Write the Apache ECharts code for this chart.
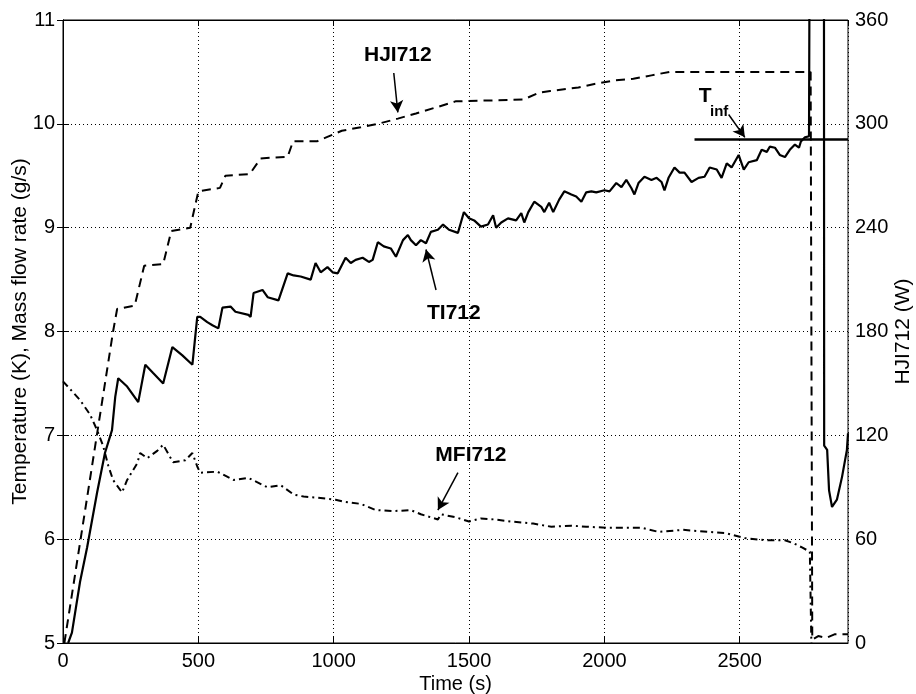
<!DOCTYPE html>
<html>
<head>
<meta charset="utf-8">
<script src="https://cdn.jsdelivr.net/npm/echarts@6/dist/echarts.min.js"></script>
<style>
  html, body { margin: 0; padding: 0; background: #fff; }
  #chart { width: 916px; height: 694px; }
</style>
</head>
<body>
<div id="chart"></div>
<script>
// TI712 temperature (K), left axis
let tiTime = [19, 33, 63, 89, 126, 155, 181, 193, 204, 237, 278, 304, 333, 370, 404, 441, 478, 496, 507, 533, 552, 574, 589, 619, 637, 685, 693, 704, 737, 756, 796, 830, 852,
    878, 915, 933, 952, 977, 996, 1015, 1044, 1063, 1081, 1107, 1130, 1144, 1163, 1185, 1211, 1230, 1256, 1274, 1285, 1304, 1322, 1341, 1359, 1385, 1404, 1426, 1459, 1470, 1481, 1500, 1519, 1544, 1570, 1589, 1600,
    1619, 1644, 1674, 1693, 1704, 1719, 1741, 1767, 1778, 1796, 1811, 1833, 1852, 1878, 1896, 1915, 1933, 1952, 1970, 2000, 2019, 2044, 2063, 2081, 2100, 2111, 2126, 2148, 2174, 2193, 2211,
    2222, 2237, 2259, 2278, 2296, 2322, 2348, 2370, 2389, 2415, 2433, 2452, 2470, 2496, 2515, 2533, 2563, 2581, 2600, 2611, 2630, 2648, 2667, 2685, 2704, 2719, 2726, 2741, 2756,
    2759, 2811, 2812, 2823, 2830, 2841, 2859, 2878, 2896, 2900];
let tiValue = [5.0, 5.1, 5.59, 5.92, 6.45, 6.83, 7.05, 7.37, 7.55, 7.47, 7.32, 7.68, 7.6, 7.5, 7.85, 7.77, 7.68, 8.14, 8.14, 8.09, 8.06, 8.03, 8.23, 8.24, 8.19, 8.16, 8.14, 8.37, 8.4, 8.33, 8.3, 8.56, 8.54,
    8.53, 8.50, 8.66, 8.57, 8.62, 8.57, 8.56, 8.71, 8.66, 8.69, 8.71, 8.67, 8.69, 8.86, 8.82, 8.80, 8.72, 8.88, 8.93, 8.88, 8.83, 8.88, 8.85, 8.96, 8.98, 9.03, 8.98, 8.95, 9.05, 9.15, 9.09, 9.07, 9.01, 9.03, 9.12, 9.0,
    9.05, 9.09, 9.07, 9.14, 9.05, 9.15, 9.25, 9.2, 9.15, 9.24, 9.15, 9.27, 9.35, 9.32, 9.3, 9.25, 9.34, 9.35, 9.34, 9.36, 9.35, 9.43, 9.39, 9.46, 9.38, 9.32, 9.43, 9.49, 9.46, 9.48, 9.44,
    9.36, 9.48, 9.58, 9.53, 9.53, 9.44, 9.48, 9.49, 9.58, 9.56, 9.48, 9.62, 9.58, 9.7, 9.56, 9.63, 9.65, 9.75, 9.73, 9.78, 9.77, 9.7, 9.68, 9.75, 9.8, 9.77, 9.83, 9.87, 9.88,
    12.5, 12.5, 6.9, 6.86, 6.47, 6.31, 6.38, 6.6, 6.86, 7.02];

// HJI712 heater power (W), right axis
let hjTime = [5, 60, 125, 185, 200, 265, 300, 370, 400, 470, 500, 580, 600, 690, 730, 830, 850, 940, 970, 1030, 1100, 1163, 1237, 1304, 1389, 1450, 1700, 1759, 1800, 1904, 1963, 2033, 2107, 2174, 2240, 2762, 2768, 2790, 2820, 2850, 2900];
let hjValue = [0, 55, 120, 180, 193, 195, 218, 219, 238, 240, 261, 263, 270, 271, 280, 281, 290, 290, 292, 296, 298, 300, 303, 306, 310, 313, 314, 318, 319, 321, 323, 325, 326, 328, 330, 330, 2, 4, 3, 5, 5];

// MFI712 mass flow rate (g/s), left axis
let mfTime = [0, 63, 100, 126, 148, 167, 185, 218, 237, 274, 285, 311, 348, 370, 396, 407, 452, 478, 496, 507, 570, 630, 685, 755, 804, 852, 889, 941, 1007, 1037, 1100, 1156, 1219, 1285, 1322, 1359, 1385, 1396, 1452, 1500, 1544, 1593, 1656, 1737, 1804, 1878, 1933, 2007, 2137, 2200, 2290, 2385, 2444, 2519, 2593, 2667, 2700, 2730, 2759, 2766];
let mfValue = [7.52, 7.34, 7.2, 7.05, 6.9, 6.71, 6.57, 6.45, 6.57, 6.73, 6.83, 6.78, 6.85, 6.91, 6.79, 6.74, 6.76, 6.83, 6.7, 6.64, 6.65, 6.57, 6.59, 6.5, 6.52, 6.43, 6.41, 6.4, 6.38, 6.36, 6.34, 6.28, 6.27, 6.28, 6.24, 6.21, 6.19, 6.24, 6.21, 6.17, 6.2, 6.19, 6.17, 6.15, 6.12, 6.13, 6.12, 6.11, 6.11, 6.07, 6.09, 6.07, 6.06, 6.01, 5.99, 5.99, 5.96, 5.92, 5.88, 4.8];

// T_inf reference line
let tinfTime = [2333, 2900];
let tinfValue = [9.85, 9.85];

let xTicks = [0, 500, 1000, 1500, 2000, 2500];

// annotation positions (time, left-axis value)
let labels = [
    { text: "HJI712", at: [1237, 10.66] },
    { text: "TI712", at: [1444, 8.18] },
    { text: "MFI712", at: [1507, 6.81] },
    { text: "T", at: [2372, 10.27] },
    { text: "inf", at: [2424, 10.12], small: true }
];
let arrows = [
    [[1222, 10.49], [1237, 10.11]],
    [[1378, 8.40], [1341, 8.79]],
    [[1459, 6.64], [1385, 6.28]],
    [[2459, 10.09], [2519, 9.87]]
];

document.addEventListener("DOMContentLoaded", function () {
    let chart = echarts.init(document.getElementById("chart"));
    let font = "'Liberation Sans', Arial, Helvetica, sans-serif";

    let pairs = (xs, ys) => xs.map((x, i) => [x, ys[i]]);

    let option = {
        animation: false,
        backgroundColor: "#fff",
        textStyle: { fontFamily: font, color: "#000" },
        grid: {
            left: 63, right: 68, top: 20, bottom: 51,
            containLabel: false,
            outerBoundsMode: "none",
            show: true, borderColor: "#000", borderWidth: 1
        },
        xAxis: [
            {
                type: "value",
                min: 0, max: 2900, interval: 500,
                name: "Time (s)",
                nameLocation: "middle",
                nameGap: 31,
                nameMoveOverlap: false,
                nameTextStyle: { fontSize: 20, color: "#000" },
                axisLine: { show: true, lineStyle: { color: "#000", width: 1 } },
                axisTick: { inside: true, length: 6, lineStyle: { color: "#000" } },
                axisLabel: {
                    fontSize: 20, color: "#000", margin: 8,
                    showMaxLabel: false,
                    formatter: v => xTicks.includes(v) ? String(v) : ""
                },
                splitLine: { show: true, lineStyle: { color: "#000", width: 1, type: [1, 3] } }
            },
            {
                type: "value",
                position: "top",
                min: 0, max: 2900, interval: 500,
                axisLine: { show: true, lineStyle: { color: "#000" } },
                axisTick: { inside: true, length: 6, lineStyle: { color: "#000" } },
                axisLabel: { show: false },
                splitLine: { show: false }
            }
        ],
        yAxis: [
            {
                type: "value",
                min: 5, max: 11, interval: 1,
                name: "Temperature (K), Mass flow rate (g/s)",
                nameLocation: "middle",
                nameRotate: 90,
                nameGap: 32,
                nameMoveOverlap: false,
                nameTextStyle: { fontSize: 21, color: "#000" },
                axisLine: { show: true, lineStyle: { color: "#000", width: 1 } },
                axisTick: { inside: true, length: 6, lineStyle: { color: "#000" } },
                axisLabel: { fontSize: 20, color: "#000", margin: 8 },
                splitLine: { show: true, lineStyle: { color: "#000", width: 1, type: [1, 3] } }
            },
            {
                type: "value",
                position: "right",
                min: 0, max: 360, interval: 60,
                name: "HJI712 (W)",
                nameLocation: "middle",
                nameRotate: 90,
                nameGap: 45,
                nameMoveOverlap: false,
                nameTextStyle: { fontSize: 21, color: "#000" },
                axisLine: { show: true, lineStyle: { color: "#000", width: 1 } },
                axisTick: { inside: true, length: 6, lineStyle: { color: "#000" } },
                axisLabel: { fontSize: 20, color: "#000", margin: 7 },
                splitLine: { show: false }
            }
        ],
        series: [
            {
                name: "HJI712",
                type: "line",
                yAxisIndex: 1,
                data: pairs(hjTime, hjValue),
                showSymbol: false,
                lineStyle: { color: "#000", width: 2, type: [9, 6] },
                z: 3
            },
            {
                name: "MFI712",
                type: "line",
                data: pairs(mfTime, mfValue),
                showSymbol: false,
                lineStyle: { color: "#000", width: 2, type: [7, 4, 2, 4] },
                z: 3
            },
            {
                name: "TI712",
                type: "line",
                data: pairs(tiTime, tiValue),
                showSymbol: false,
                lineStyle: { color: "#000", width: 2.2 },
                z: 4
            },
            {
                name: "Tinf",
                type: "line",
                data: pairs(tinfTime, tinfValue),
                showSymbol: false,
                lineStyle: { color: "#000", width: 2.5 },
                z: 4,
                // annotations: labels and arrows
                markPoint: {
                    silent: true,
                    symbol: "circle",
                    symbolSize: 0,
                    data: labels.map(l => ({
                        coord: l.at,
                        label: {
                            show: true,
                            position: "inside",
                            formatter: l.text,
                            color: "#000",
                            fontWeight: "bold",
                            fontFamily: font,
                            fontSize: l.small ? 15 : 21
                        }
                    }))
                },
                markLine: {
                    silent: true,
                    symbol: ["none", "arrow"],
                    symbolSize: [10, 12],
                    label: { show: false },
                    lineStyle: { color: "#000", width: 1.5, type: "solid" },
                    data: arrows.map(a => [{ coord: a[0] }, { coord: a[1] }])
                }
            }
        ]
    };
    chart.setOption(option);
});
</script>
</body>
</html>
